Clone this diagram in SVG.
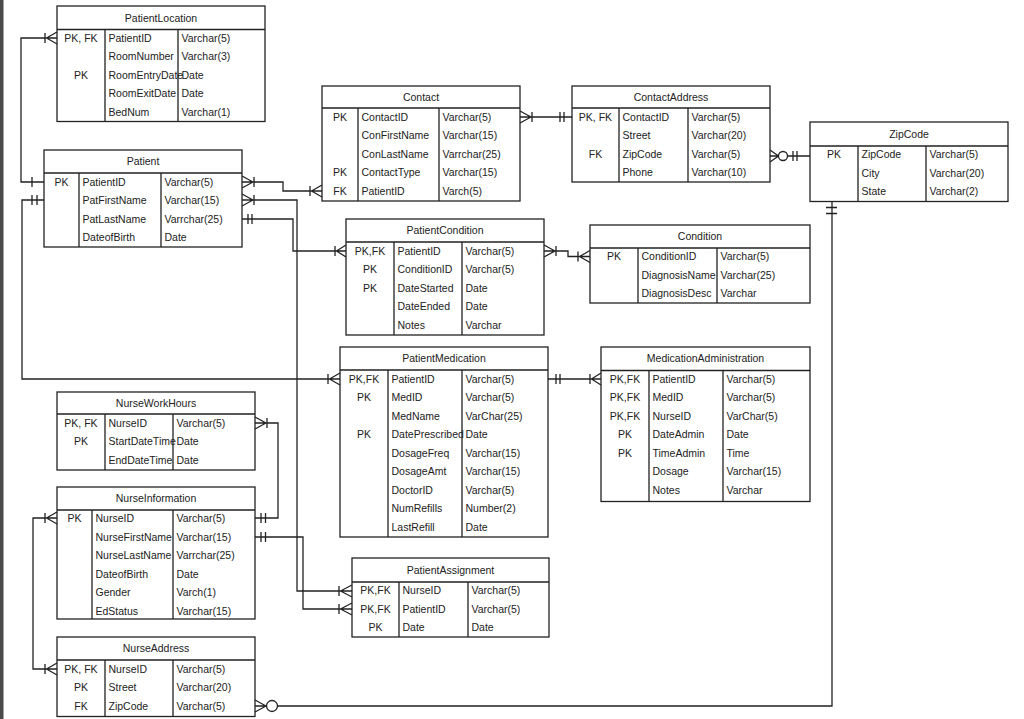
<svg xmlns="http://www.w3.org/2000/svg" width="1024" height="719" viewBox="0 0 1024 719">
<style>
.box{fill:#fff;stroke:#222;stroke-width:1.3}
.ln{fill:none;stroke:#222;stroke-width:1.3}
text{font-family:"Liberation Sans",Arial,sans-serif;font-size:10.5px;fill:#222}
.c{text-anchor:middle}
#connectors path{fill:none;stroke:#222;stroke-width:1.3}
#connectors circle{fill:#fff;stroke:#222;stroke-width:1.3}
</style>
<rect x="0" y="0" width="1024" height="719" fill="#fff"/>
<rect x="0" y="0" width="3.5" height="719" fill="#4a4a4a"/>

<g id="PatientLocation">
<rect class="box" x="57" y="6" width="208" height="115.5"/>
<path class="ln" d="M57 29.5H265M105 29.5V121.5M178 29.5V121.5"/>
<text class="c" x="161" y="21.5">PatientLocation</text>
<text class="c" x="81" y="41.7">PK, FK</text><text x="108.5" y="41.7">PatientID</text><text x="181.5" y="41.7">Varchar(5)</text>
<text x="108.5" y="60.2">RoomNumber</text><text x="181.5" y="60.2">Varchar(3)</text>
<text class="c" x="81" y="78.7">PK</text><text x="108.5" y="78.7">RoomEntryDate</text><text x="181.5" y="78.7">Date</text>
<text x="108.5" y="97.2">RoomExitDate</text><text x="181.5" y="97.2">Date</text>
<text x="108.5" y="115.7">BedNum</text><text x="181.5" y="115.7">Varchar(1)</text>
</g>

<g id="Patient">
<rect class="box" x="44" y="150" width="198" height="97"/>
<path class="ln" d="M44 173H242M79 173V247M161 173V247"/>
<text class="c" x="143" y="165">Patient</text>
<text class="c" x="61.5" y="185.7">PK</text><text x="82.5" y="185.7">PatientID</text><text x="164.5" y="185.7">Varchar(5)</text>
<text x="82.5" y="204.2">PatFirstName</text><text x="164.5" y="204.2">Varchar(15)</text>
<text x="82.5" y="222.7">PatLastName</text><text x="164.5" y="222.7">Varrchar(25)</text>
<text x="82.5" y="241.2">DateofBirth</text><text x="164.5" y="241.2">Date</text>
</g>

<g id="Contact">
<rect class="box" x="322" y="86" width="198" height="115"/>
<path class="ln" d="M322 108H520M358 108V201M439 108V201"/>
<text class="c" x="421" y="100.5">Contact</text>
<text class="c" x="340" y="120.7">PK</text><text x="361.5" y="120.7">ContactID</text><text x="442.5" y="120.7">Varchar(5)</text>
<text x="361.5" y="139.2">ConFirstName</text><text x="442.5" y="139.2">Varchar(15)</text>
<text x="361.5" y="157.7">ConLastName</text><text x="442.5" y="157.7">Varrchar(25)</text>
<text class="c" x="340" y="176.2">PK</text><text x="361.5" y="176.2">ContactType</text><text x="442.5" y="176.2">Varchar(15)</text>
<text class="c" x="340" y="194.7">FK</text><text x="361.5" y="194.7">PatientID</text><text x="442.5" y="194.7">Varch(5)</text>
</g>

<g id="ContactAddress">
<rect class="box" x="572" y="86" width="198" height="96"/>
<path class="ln" d="M572 108H770M619 108V182M688 108V182"/>
<text class="c" x="671" y="100.5">ContactAddress</text>
<text class="c" x="595.5" y="120.7">PK, FK</text><text x="622.5" y="120.7">ContactID</text><text x="691.5" y="120.7">Varchar(5)</text>
<text x="622.5" y="139.2">Street</text><text x="691.5" y="139.2">Varchar(20)</text>
<text class="c" x="595.5" y="157.7">FK</text><text x="622.5" y="157.7">ZipCode</text><text x="691.5" y="157.7">Varchar(5)</text>
<text x="622.5" y="176.2">Phone</text><text x="691.5" y="176.2">Varchar(10)</text>
</g>

<g id="ZipCode">
<rect class="box" x="810" y="122" width="198" height="79.5"/>
<path class="ln" d="M810 146H1008M858 146V201.5M926 146V201.5"/>
<text class="c" x="909" y="137.5">ZipCode</text>
<text class="c" x="834" y="158">PK</text><text x="861.5" y="158">ZipCode</text><text x="929.5" y="158">Varchar(5)</text>
<text x="861.5" y="176.5">City</text><text x="929.5" y="176.5">Varchar(20)</text>
<text x="861.5" y="195">State</text><text x="929.5" y="195">Varchar(2)</text>
</g>

<g id="PatientCondition">
<rect class="box" x="346" y="219" width="198" height="116"/>
<path class="ln" d="M346 242H544M394 242V335M462 242V335"/>
<text class="c" x="445" y="234">PatientCondition</text>
<text class="c" x="370" y="254.7">PK,FK</text><text x="397.5" y="254.7">PatientID</text><text x="465.5" y="254.7">Varchar(5)</text>
<text class="c" x="370" y="273.2">PK</text><text x="397.5" y="273.2">ConditionID</text><text x="465.5" y="273.2">Varchar(5)</text>
<text class="c" x="370" y="291.7">PK</text><text x="397.5" y="291.7">DateStarted</text><text x="465.5" y="291.7">Date</text>
<text x="397.5" y="310.2">DateEnded</text><text x="465.5" y="310.2">Date</text>
<text x="397.5" y="328.7">Notes</text><text x="465.5" y="328.7">Varchar</text>
</g>

<g id="Condition">
<rect class="box" x="590" y="225" width="220" height="78"/>
<path class="ln" d="M590 248H810M638 248V303M717 248V303"/>
<text class="c" x="700" y="240">Condition</text>
<text class="c" x="614" y="260.2">PK</text><text x="641.5" y="260.2">ConditionID</text><text x="720.5" y="260.2">Varchar(5)</text>
<text x="641.5" y="278.7">DiagnosisName</text><text x="720.5" y="278.7">Varchar(25)</text>
<text x="641.5" y="297.2">DiagnosisDesc</text><text x="720.5" y="297.2">Varchar</text>
</g>

<g id="PatientMedication">
<rect class="box" x="340" y="347" width="208" height="190"/>
<path class="ln" d="M340 370H548M388 370V537M462 370V537"/>
<text class="c" x="444" y="362">PatientMedication</text>
<text class="c" x="364" y="382.7">PK,FK</text><text x="391.5" y="382.7">PatientID</text><text x="465.5" y="382.7">Varchar(5)</text>
<text class="c" x="364" y="401.2">PK</text><text x="391.5" y="401.2">MedID</text><text x="465.5" y="401.2">Varchar(5)</text>
<text x="391.5" y="419.7">MedName</text><text x="465.5" y="419.7">VarChar(25)</text>
<text class="c" x="364" y="438.2">PK</text><text x="391.5" y="438.2">DatePrescribed</text><text x="465.5" y="438.2">Date</text>
<text x="391.5" y="456.7">DosageFreq</text><text x="465.5" y="456.7">Varchar(15)</text>
<text x="391.5" y="475.2">DosageAmt</text><text x="465.5" y="475.2">Varchar(15)</text>
<text x="391.5" y="493.7">DoctorID</text><text x="465.5" y="493.7">Varchar(5)</text>
<text x="391.5" y="512.2">NumRefills</text><text x="465.5" y="512.2">Number(2)</text>
<text x="391.5" y="530.7">LastRefill</text><text x="465.5" y="530.7">Date</text>
</g>

<g id="MedicationAdministration">
<rect class="box" x="601" y="347" width="209" height="154.5"/>
<path class="ln" d="M601 370.5H810M649 370.5V501.5M723 370.5V501.5"/>
<text class="c" x="705.5" y="362">MedicationAdministration</text>
<text class="c" x="625" y="382.7">PK,FK</text><text x="652.5" y="382.7">PatientID</text><text x="726.5" y="382.7">Varchar(5)</text>
<text class="c" x="625" y="401.2">PK,FK</text><text x="652.5" y="401.2">MedID</text><text x="726.5" y="401.2">Varchar(5)</text>
<text class="c" x="625" y="419.7">PK,FK</text><text x="652.5" y="419.7">NurseID</text><text x="726.5" y="419.7">VarChar(5)</text>
<text class="c" x="625" y="438.2">PK</text><text x="652.5" y="438.2">DateAdmin</text><text x="726.5" y="438.2">Date</text>
<text class="c" x="625" y="456.7">PK</text><text x="652.5" y="456.7">TimeAdmin</text><text x="726.5" y="456.7">Time</text>
<text x="652.5" y="475.2">Dosage</text><text x="726.5" y="475.2">Varchar(15)</text>
<text x="652.5" y="493.7">Notes</text><text x="726.5" y="493.7">Varchar</text>
</g>

<g id="NurseWorkHours">
<rect class="box" x="57" y="392" width="198" height="78"/>
<path class="ln" d="M57 414H255M105 414V470M173 414V470"/>
<text class="c" x="156" y="406.5">NurseWorkHours</text>
<text class="c" x="81" y="426.7">PK, FK</text><text x="108.5" y="426.7">NurseID</text><text x="176.5" y="426.7">Varchar(5)</text>
<text class="c" x="81" y="445.2">PK</text><text x="108.5" y="445.2">StartDateTime</text><text x="176.5" y="445.2">Date</text>
<text x="108.5" y="463.7">EndDateTime</text><text x="176.5" y="463.7">Date</text>
</g>

<g id="NurseInformation">
<rect class="box" x="57" y="487" width="198" height="132"/>
<path class="ln" d="M57 510H255M92 510V619M173 510V619"/>
<text class="c" x="156" y="502">NurseInformation</text>
<text class="c" x="74.5" y="522.2">PK</text><text x="95.5" y="522.2">NurseID</text><text x="176.5" y="522.2">Varchar(5)</text>
<text x="95.5" y="540.7">NurseFirstName</text><text x="176.5" y="540.7">Varchar(15)</text>
<text x="95.5" y="559.2">NurseLastName</text><text x="176.5" y="559.2">Varrchar(25)</text>
<text x="95.5" y="577.7">DateofBirth</text><text x="176.5" y="577.7">Date</text>
<text x="95.5" y="596.2">Gender</text><text x="176.5" y="596.2">Varch(1)</text>
<text x="95.5" y="614.7">EdStatus</text><text x="176.5" y="614.7">Varchar(15)</text>
</g>

<g id="PatientAssignment">
<rect class="box" x="352" y="558" width="197" height="79"/>
<path class="ln" d="M352 582H549M399 582V637M468 582V637"/>
<text class="c" x="450.5" y="573.5">PatientAssignment</text>
<text class="c" x="375.5" y="594.2">PK,FK</text><text x="402.5" y="594.2">NurseID</text><text x="471.5" y="594.2">Varchar(5)</text>
<text class="c" x="375.5" y="612.7">PK,FK</text><text x="402.5" y="612.7">PatientID</text><text x="471.5" y="612.7">Varchar(5)</text>
<text class="c" x="375.5" y="631.2">PK</text><text x="402.5" y="631.2">Date</text><text x="471.5" y="631.2">Date</text>
</g>

<g id="NurseAddress">
<rect class="box" x="57" y="637" width="198" height="79.5"/>
<path class="ln" d="M57 660H255M105 660V716.5M173 660V716.5"/>
<text class="c" x="156" y="652">NurseAddress</text>
<text class="c" x="81" y="672.7">PK, FK</text><text x="108.5" y="672.7">NurseID</text><text x="176.5" y="672.7">Varchar(5)</text>
<text class="c" x="81" y="691.2">PK</text><text x="108.5" y="691.2">Street</text><text x="176.5" y="691.2">Varchar(20)</text>
<text class="c" x="81" y="709.7">FK</text><text x="108.5" y="709.7">ZipCode</text><text x="176.5" y="709.7">Varchar(5)</text>
</g>

<g id="connectors">
<!-- Patient PK -> PatientLocation -->
<path d="M44 182H21V38H57M32 177V187M45 33V43M46.5 38L57 32M46.5 38L57 44"/>
<!-- Patient PatFirstName -> PatientMedication -->
<path d="M44 200H22V379H340M32 195V205M37 195V205M328 374V384M329.5 379L340 373M329.5 379L340 385"/>
<!-- Patient -> Contact -->
<path d="M242 182H283V191H322M253 182L242 176M253 182L242 188M254 177V187M310 186V196M311.5 191L322 185M311.5 191L322 197"/>
<!-- Patient -> PatientAssignment (PatientID) -->
<path d="M242 200H297V591H352M253 200L242 194M253 200L242 206M254 195V205M339 586V596M340.5 591L352 585M340.5 591L352 597"/>
<!-- Patient -> PatientCondition -->
<path d="M242 219H293V251H346M248 214V224M252 214V224M335 246V256M336.5 251L346 245M336.5 251L346 257"/>
<!-- Contact -> ContactAddress -->
<path d="M520 117H572M531 117L520 111M531 117L520 123M532 112V122M560 112V122M564 112V122"/>
<!-- ContactAddress -> ZipCode -->
<path d="M770 156H810M778.5 156L770 150M778.5 156L770 162M793 151V161M797 151V161"/>
<circle cx="783" cy="156" r="4.5"/>
<!-- PatientCondition -> Condition -->
<path d="M544 251H568V256.5H590M555 251L544 245M555 251L544 257M556 246V256M578 251.5V261.5M579.5 256.5L590 250.5M579.5 256.5L590 262.5"/>
<!-- PatientMedication -> MedicationAdministration -->
<path d="M548 379H601M556 374V384M560 374V384M590 374V384M591.5 379L601 373M591.5 379L601 385"/>
<!-- NurseInformation -> NurseWorkHours -->
<path d="M255 518H278V423H255M261 513V523M265.5 513V523M266 423L255 417M266 423L255 429M267 418V428"/>
<!-- NurseInformation -> PatientAssignment (NurseID) -->
<path d="M255 537H303V609H352M261 532V542M265.5 532V542M339 604V614M340.5 609L352 603M340.5 609L352 615"/>
<!-- NurseInformation -> NurseAddress -->
<path d="M57 518H33V669H57M45 513V523M46.5 518L57 512M46.5 518L57 524M45 664V674M46.5 669L57 663M46.5 669L57 675"/>
<!-- NurseAddress -> ZipCode -->
<path d="M255 706H832V201.5M266 706L255 700M266 706L255 712M826 207.5H837M826 213.5H837"/>
<circle cx="272" cy="706" r="5.5"/>
</g>
</svg>
